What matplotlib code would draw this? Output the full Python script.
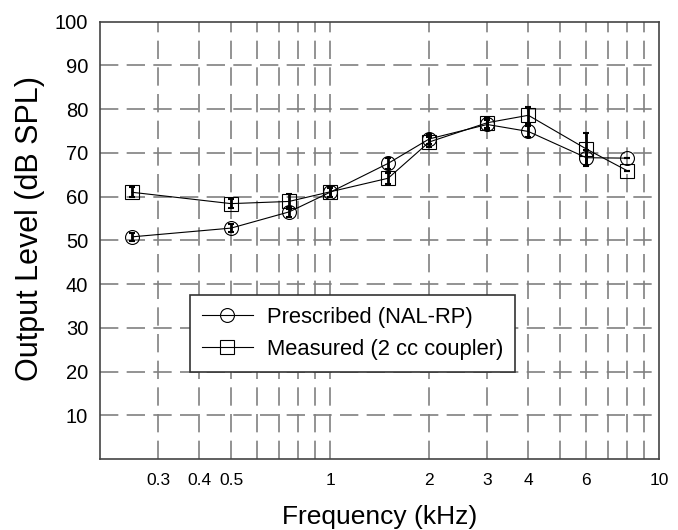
import numpy as np
import matplotlib.pyplot as plt
from matplotlib.ticker import FixedLocator, FixedFormatter, NullFormatter

plt.rcParams['font.family'] = ['Liberation Sans', 'DejaVu Sans']

# --- Data ---
freq_khz = [0.25, 0.5, 0.75, 1.0, 1.5, 2.0, 3.0, 4.0, 6.0, 8.0]
prescribed = [50.8, 52.8, 56.5, 61.0, 67.6, 73.2, 76.5, 74.9, 68.9, 68.8]
prescribed_err = [0.9, 1.0, 1.2, 1.0, 1.2, 1.2, 1.0, 1.2, 1.8, 0.0]
measured = [61.0, 58.4, 58.9, 61.1, 64.2, 72.5, 76.9, 78.6, 70.9, 65.9]
measured_err = [1.1, 1.1, 1.8, 1.1, 1.2, 1.2, 1.1, 2.0, 3.7, 0.0]

xtick_vals = [0.3, 0.4, 0.5, 1, 2, 3, 4, 6, 10]
xtick_labels = ['0.3', '0.4', '0.5', '1', '2', '3', '4', '6', '10']
ytick_vals = [10, 20, 30, 40, 50, 60, 70, 80, 90, 100]

# --- Figure ---
fig = plt.figure(figsize=(6.78, 5.30), dpi=100)
ax = fig.add_axes([0.1475, 0.134, 0.825, 0.825])

ax.set_xscale('log')
ax.set_xlim(0.2, 10)
ax.set_ylim(0, 100)

# grid: dashed gray at every 1-9 position of each decade
grid_x = [v * d for d in (0.1, 1) for v in range(2, 10)] + [1]
for gx in grid_x:
    if 0.2 < gx < 10:
        ax.axvline(gx, color='#808080', lw=1.2, ls=(0, (11, 5)), zorder=0)
for gy in ytick_vals[:-1]:
    ax.axhline(gy, color='#808080', lw=1.2, ls=(0, (11, 5)), zorder=0)

# series
ax.plot(freq_khz, prescribed, color='black', lw=0.8, marker='o', ms=10,
        mfc='none', mec='black', mew=0.8, label='Prescribed (NAL-RP)', zorder=3)
ax.plot(freq_khz, measured, color='black', lw=0.8, marker='s', ms=9.5,
        mfc='none', mec='black', mew=0.8, label='Measured (2 cc coupler)', zorder=3)

ax.errorbar(freq_khz, prescribed, yerr=prescribed_err, fmt='none', ecolor='black',
            elinewidth=2, capsize=2.5, capthick=1.5, zorder=4)
ax.errorbar(freq_khz, measured, yerr=measured_err, fmt='none', ecolor='black',
            elinewidth=2, capsize=2.5, capthick=1.5, zorder=4)

# ticks
ax.xaxis.set_major_locator(FixedLocator(xtick_vals))
ax.xaxis.set_major_formatter(FixedFormatter(xtick_labels))
ax.xaxis.set_minor_formatter(NullFormatter())
ax.yaxis.set_major_locator(FixedLocator(ytick_vals))
ax.tick_params(which='both', length=0)
ax.tick_params(axis='x', labelsize=12.5, pad=10)
ax.tick_params(axis='y', labelsize=14.5, pad=8.5)

for s in ax.spines.values():
    s.set_color('#444444')
    s.set_linewidth(1.2)

ax.set_xlabel('Frequency (kHz)', fontsize=19, labelpad=12)
ax.set_ylabel('Output Level (dB SPL)', fontsize=22, labelpad=8)
ax.yaxis.set_label_coords(-0.098, 0.526)

leg = ax.legend(loc='lower left', bbox_to_anchor=(0.161, 0.199), fontsize=15.8,
                handlelength=2.3, frameon=True, fancybox=False, borderpad=0.55,
                labelspacing=0.5, handletextpad=0.65, borderaxespad=0)
leg.get_frame().set_edgecolor('#333333')
leg.get_frame().set_linewidth(1.2)
leg.get_frame().set_alpha(1)

plt.savefig('out.png', dpi=100)
